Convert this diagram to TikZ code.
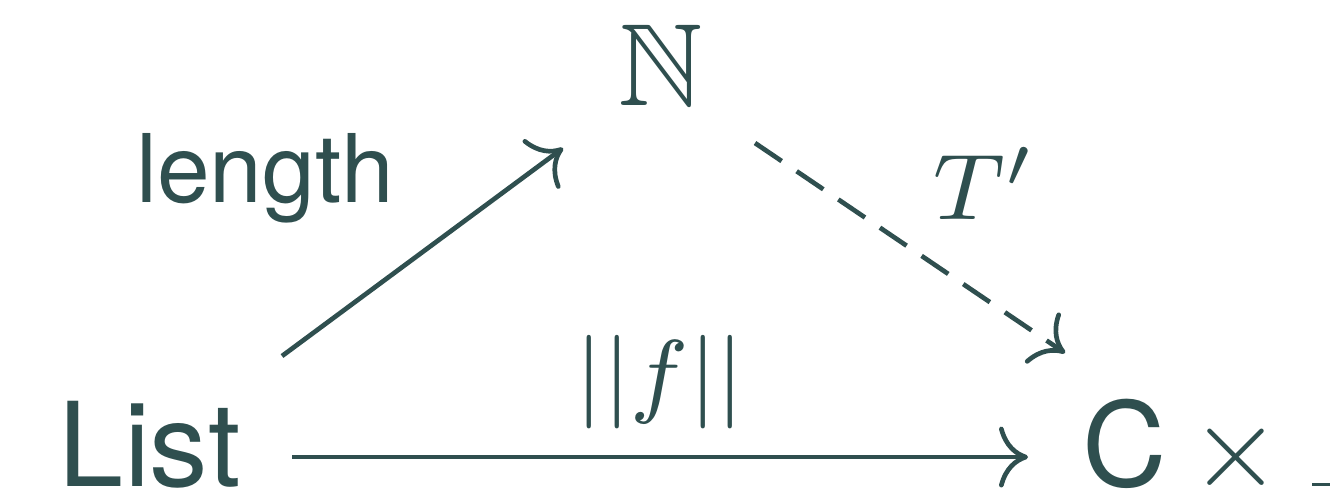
\documentclass[tikz,border=0pt]{standalone}
\usepackage{amssymb}
\usepackage{fontspec}
\setmainfont{TeX Gyre Heros}
\usetikzlibrary{arrows.meta,calc}
\definecolor{dsg}{HTML}{2F4F4F}
\begin{document}
\begin{tikzpicture}[x=0.0855pt,y=-0.0855pt,
  every node/.style={inner sep=0pt,outer sep=0pt,text=dsg},
  obj/.style={font=\normalsize},
  lab/.style={font=\fontsize{8.1}{10}\selectfont},
  arr/.style={draw=dsg,line width=0.4pt,-{Computer Modern Rightarrow}},
  dasharr/.style={arr,dash pattern=on 2.75pt off 1.55pt}]
\useasboundingbox (0,0) rectangle (1330,494);
\node[obj,anchor=base west] (L) at (59,486) {List};
\node[obj,anchor=base] (N) at (661,105) {$\mathbb{N}$};
\node[obj,anchor=base west] (C) at (1082,486) {C\kern2.05pt$\times$\kern2.65pt\vrule width 1.5pt height 0.25pt depth 0pt};
\node[lab,anchor=base west] (len) at (136,202) {length};
\node[lab,anchor=base] (T) at (985,219) {$T'$};
\node[lab,anchor=base] (F) at (660,405) {$||f||$};
\draw[arr] ($(L.base west)+(223,-130)$) -- ($(N.base)+(-98,43)$);
\draw[dasharr] ($(N.base)+(94,38)$) -- ($(C.base west)+(-17,-133)$);
\draw[arr] ($(L.base west)+(233,-29)$) -- ($(C.base west)+(-54,-29)$);
\end{tikzpicture}
\end{document}
